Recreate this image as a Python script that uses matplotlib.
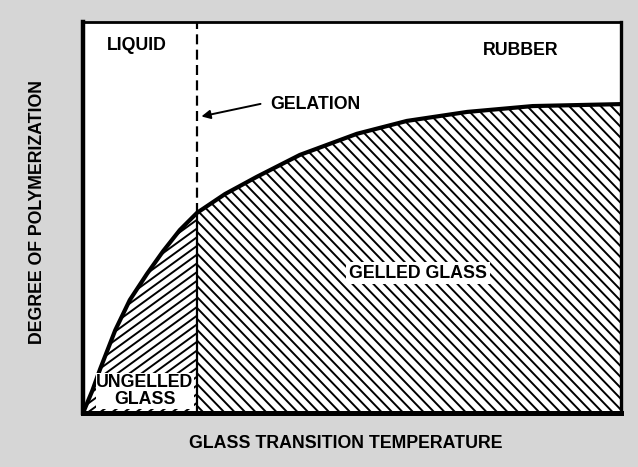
"""Phase diagram sketch: degree of polymerization vs glass transition temperature."""

import matplotlib

matplotlib.use("Agg")
import matplotlib.pyplot as plt
import numpy as np
from matplotlib.collections import LineCollection
from matplotlib.patches import Polygon

# curve (normalized axes, 0..1)
curve_x = [0.0, 0.017, 0.032, 0.060, 0.087, 0.119, 0.149, 0.180, 0.212,
           0.264, 0.323, 0.403, 0.509, 0.602, 0.714, 0.836, 1.0]
curve_y = [0.0, 0.056, 0.113, 0.212, 0.289, 0.356, 0.414, 0.468, 0.512,
           0.560, 0.604, 0.660, 0.714, 0.747, 0.770, 0.785, 0.790]
gel_x = 0.212  # gelation line position
gel_y = 0.512  # where it meets the curve

region_labels = ["LIQUID", "RUBBER", "GELATION", "GELLED GLASS", "UNGELLED\nGLASS"]
x_label = "GLASS TRANSITION TEMPERATURE"
y_label = "DEGREE OF POLYMERIZATION"

W, H = 638, 467
AX_L, AX_R, AX_T, AX_B = 83, 621, 22, 413
PX_W, PX_H = AX_R - AX_L, AX_B - AX_T

plt.rcParams["font.family"] = ["Liberation Sans", "DejaVu Sans"]
plt.rcParams["font.weight"] = "bold"

fig = plt.figure(figsize=(W / 100, H / 100), dpi=100, facecolor="#d6d6d6")
ax = fig.add_axes([AX_L / W, 1 - AX_B / H, PX_W / W, PX_H / H])
ax.set_xlim(0, 1)
ax.set_ylim(0, 1)
ax.set_xticks([])
ax.set_yticks([])
ax.set_facecolor("white")
for side, lw in [("left", 3.2), ("bottom", 3.6), ("top", 2.0), ("right", 2.4)]:
    ax.spines[side].set_linewidth(lw)


def hatch(poly, angle_deg, spacing_px, lw):
    # parallel lines laid out in pixel space, clipped to the region polygon
    ax.add_patch(poly)
    t = np.radians(angle_deg)
    L = 2000  # long enough to cross the whole axes
    dx, dy = L * np.cos(t) / PX_W, L * np.sin(t) / PX_H
    segs = [[(c - dx, -dy), (c + dx, dy)] for c in np.arange(-2.0, 3.0, spacing_px / PX_W)]
    lc = LineCollection(segs, colors="black", linewidths=lw, zorder=2)
    lc.set_clip_path(poly)
    ax.add_collection(lc, autolim=False)


i_gel = curve_x.index(gel_x)
gelled = Polygon(
    [(gel_x, 0)] + list(zip(curve_x[i_gel:], curve_y[i_gel:])) + [(1, 0)],
    closed=True, facecolor="white", edgecolor="none", zorder=1,
)
ungelled = Polygon(
    [(0, 0)] + list(zip(curve_x[: i_gel + 1], curve_y[: i_gel + 1])) + [(gel_x, 0)],
    closed=True, facecolor="white", edgecolor="none", zorder=1,
)
hatch(gelled, -46, 10.5, 1.4)
hatch(ungelled, 36, 12.0, 1.4)

ax.plot(curve_x, curve_y, color="black", lw=3.0, solid_capstyle="round",
        solid_joinstyle="round", zorder=4)
ax.plot([gel_x, gel_x], [gel_y, 1], color="black", lw=1.6, dashes=(4.5, 2.4), zorder=3)
ax.plot([gel_x, gel_x], [0, gel_y], color="black", lw=1.6, zorder=3)

txt = dict(fontsize=12.8, fontweight="bold", color="black", zorder=5)
ax.text(0.100, 0.941, region_labels[0], ha="center", va="center", **txt)
ax.text(0.814, 0.928, region_labels[1], ha="center", va="center", **txt)
ax.text(0.348, 0.790, region_labels[2], ha="left", va="center", **txt)
ax.annotate("", xy=(gel_x + 0.003, 0.757), xytext=(0.335, 0.792),
            arrowprops=dict(arrowstyle="-|>", color="black", lw=1.4, mutation_scale=13), zorder=5)
ax.text(0.623, 0.358, region_labels[3], ha="center", va="center",
        bbox=dict(facecolor="white", edgecolor="none", pad=2.0), **txt)
ax.text(0.115, 0.056, region_labels[4], ha="center", va="center", linespacing=1.0,
        bbox=dict(facecolor="white", edgecolor="none", pad=0.5), **txt)

fig.text(346 / W, 1 - 443 / H, x_label, ha="center", va="center", fontsize=12.8, fontweight="bold")
fig.text(38 / W, 1 - 212 / H, y_label, ha="center", va="center", rotation=90,
         fontsize=12.8, fontweight="bold")

fig.savefig("out.png", dpi=100, facecolor=fig.get_facecolor())
